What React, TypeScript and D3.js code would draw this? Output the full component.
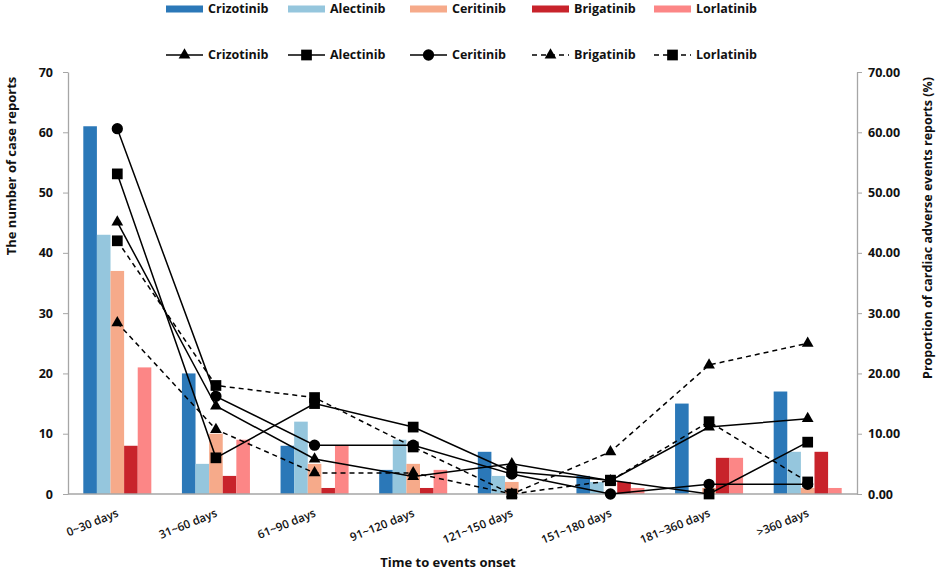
import * as React from 'react';
import * as d3 from 'd3';
import { useRef, useEffect } from 'react';

// x categories
const categories = ['0~30 days', '31~60 days', '61~90 days', '91~120 days', '121~150 days', '151~180 days', '181~360 days', '>360 days'];
const drugs = ['Crizotinib', 'Alectinib', 'Ceritinib', 'Brigatinib', 'Lorlatinib'];

// bar values: number of case reports (left axis)
const crizotinibCases = [61, 20, 8, 4, 7, 3, 15, 17];
const alectinibCases = [43, 5, 12, 9, 3, 2, 0, 7];
const ceritinibCases = [37, 10, 5, 5, 2, 0, 1, 1];
const brigatinibCases = [8, 3, 1, 1, 0, 2, 6, 7];
const lorlatinibCases = [21, 9, 8, 4, 0, 1, 6, 1];

// line values: proportion of cardiac AE reports, % (right axis)
const crizotinibPct = [45.1, 14.6, 5.8, 2.9, 5.0, 2.2, 11.1, 12.5];
const alectinibPct = [53.1, 6.0, 15.0, 11.1, 3.7, 2.3, 0, 8.6];
const ceritinibPct = [60.6, 16.2, 8.1, 8.1, 3.3, 0, 1.6, 1.6];
const brigatinibPct = [28.4, 10.7, 3.5, 3.5, 0, 7.0, 21.4, 25.0];
const lorlatinibPct = [42.0, 18.0, 16.0, 7.8, 0, 2.2, 12.0, 2.0];

const leftTicks = [0, 10, 20, 30, 40, 50, 60, 70];
const rightTicks = [0, 10, 20, 30, 40, 50, 60, 70];

const barColors = ['#2b78b8', '#95c6dd', '#f6aa8a', '#c8232b', '#fc8686'];
const barSeries = [crizotinibCases, alectinibCases, ceritinibCases, brigatinibCases, lorlatinibCases];
const lineSeries = [crizotinibPct, alectinibPct, ceritinibPct, brigatinibPct, lorlatinibPct];
const lineSymbols = [d3.symbolTriangle, d3.symbolSquare, d3.symbolCircle, d3.symbolTriangle, d3.symbolSquare];
const symbolSizes = [60, 115, 100, 60, 115];
const lineDashed = [false, false, false, true, true];

const W = 941, H = 572;
const margin = { top: 72, right: 84, bottom: 78, left: 68 };
const font = "'Open Sans', 'DejaVu Sans', sans-serif";

export default function App() {
    const leftRef = useRef<SVGGElement>(null);
    const rightRef = useRef<SVGGElement>(null);

    const x = d3.scaleBand().domain(categories).range([margin.left, W - margin.right]);
    const xInner = d3.scaleBand().domain(drugs).range([0, x.bandwidth()]).paddingOuter(1.125);
    const yLeft = d3.scaleLinear().domain([0, 70]).range([H - margin.bottom, margin.top]);
    const yRight = d3.scaleLinear().domain([0, 70]).range([H - margin.bottom, margin.top]);

    const cx = (c: string) => (x(c) ?? 0) + x.bandwidth() / 2;

    const line = d3.line<number>()
        .x((_, i) => cx(categories[i]))
        .y(d => yRight(d));

    useEffect(() => {
        const gl = d3.select(leftRef.current!);
        gl.selectAll('*').remove();
        gl.call(d3.axisLeft(yLeft).tickValues(leftTicks).tickFormat(d3.format('d')).tickSize(5).tickSizeOuter(0).tickPadding(10));
        const gr = d3.select(rightRef.current!);
        gr.selectAll('*').remove();
        gr.call(d3.axisRight(yRight).tickValues(rightTicks).tickFormat(d3.format('.2f')).tickSize(5).tickSizeOuter(0).tickPadding(6));
        [gl, gr].forEach(g => {
            g.select('.domain').attr('stroke', '#a6a6a6').attr('stroke-width', 1.3);
            g.selectAll('.tick line').attr('stroke', '#a6a6a6');
            g.selectAll('.tick text')
                .attr('fill', '#111')
                .style('font-family', font)
                .style('font-weight', 'bold')
                .style('font-size', '12.5px');
        });
    }, []);

    const baseY = yLeft(0);

    return (
        <svg width={W} height={H} style={{ position: 'absolute', left: 0, top: 0, background: '#fff' }}>
            {/* bars */}
            {barSeries.map((vals, si) => (
                <g key={drugs[si]} fill={barColors[si]}>
                    {vals.map((v, ci) => (
                        <rect key={ci}
                            x={(x(categories[ci]) ?? 0) + (xInner(drugs[si]) ?? 0)}
                            y={yLeft(v)}
                            width={xInner.bandwidth()}
                            height={baseY - yLeft(v)} />
                    ))}
                </g>
            ))}

            {/* baseline */}
            <line x1={margin.left} x2={W - margin.right} y1={baseY} y2={baseY} stroke="#a6a6a6" strokeWidth={1.3} />

            <g ref={leftRef} transform={`translate(${margin.left},0)`} />
            <g ref={rightRef} transform={`translate(${W - margin.right},0)`} />

            {/* lines */}
            {lineSeries.map((vals, si) => (
                <path key={drugs[si]} d={line(vals) ?? ''} fill="none" stroke="#000" strokeWidth={1.5}
                    strokeDasharray={lineDashed[si] ? '5,4' : undefined} />
            ))}
            {lineSeries.map((vals, si) => (
                <g key={'m' + drugs[si]}>
                    {vals.map((v, ci) => (
                        <path key={ci} transform={`translate(${cx(categories[ci])},${yRight(v)})`}
                            d={d3.symbol().type(lineSymbols[si]).size(symbolSizes[si])() ?? ''} fill="#000" />
                    ))}
                </g>
            ))}

            {/* category labels */}
            {categories.map(c => (
                <text key={c} transform={`translate(${cx(c) + 2},${baseY + 22}) rotate(-22)`}
                    textAnchor="end" fontFamily={font} fontWeight={600} fontSize={11.5} fill="#111">{c}</text>
            ))}

            {/* axis titles */}
            <text transform={`translate(16,166) rotate(-90)`} textAnchor="middle" fontFamily={font}
                fontWeight="bold" fontSize={13} fill="#111">The number of case reports</text>
            <text transform={`translate(932,228) rotate(-90)`} textAnchor="middle" fontFamily={font}
                fontWeight="bold" fontSize={12.5} fill="#111">Proportion of cardiac adverse events reports (%)</text>
            <text x={448} y={567} textAnchor="middle" fontFamily={font} fontWeight="bold" fontSize={13} fill="#111">Time to events onset</text>

            {/* legend: bars */}
            {drugs.map((d, i) => (
                <g key={'lb' + d} transform={`translate(${166 + i * 122},9)`}>
                    <rect x={0} y={-3.5} width={37} height={7} fill={barColors[i]} />
                    <text x={42} y={0} dy="0.35em" fontFamily={font} fontWeight="bold" fontSize={12.5} fill="#111">{d}</text>
                </g>
            ))}
            {/* legend: lines */}
            {drugs.map((d, i) => (
                <g key={'ll' + d} transform={`translate(${166 + i * 122},55)`}>
                    <line x1={0} x2={37} y1={0} y2={0} stroke="#000" strokeWidth={1.5}
                        strokeDasharray={lineDashed[i] ? '5,4' : undefined} />
                    <path transform="translate(18.5,0)" d={d3.symbol().type(lineSymbols[i]).size(symbolSizes[i])() ?? ''} fill="#000" />
                    <text x={42} y={0} dy="0.35em" fontFamily={font} fontWeight="bold" fontSize={12.5} fill="#111">{d}</text>
                </g>
            ))}
        </svg>
    );
}
